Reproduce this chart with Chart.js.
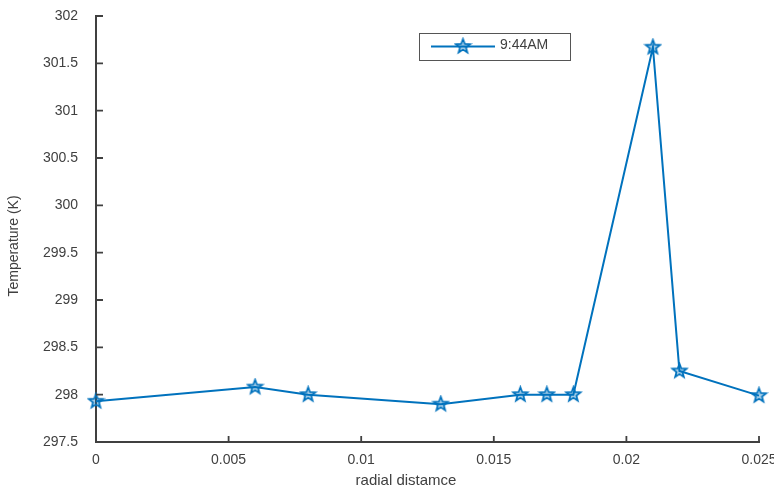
<!DOCTYPE html>
<html>
<head>
<meta charset="utf-8">
<script src="https://cdn.jsdelivr.net/npm/chart.js@4.4.1/dist/chart.umd.min.js"></script>
<style>
  html, body { margin: 0; padding: 0; background: #fff; }
  #wrap { width: 774px; height: 492px; position: relative; }
</style>
</head>
<body>
<div id="wrap"><canvas id="tempChart"></canvas></div>
<script>
// Data
const radius = [0, 0.006, 0.008, 0.013, 0.016, 0.017, 0.018, 0.021, 0.022, 0.025];
const temperature = [297.93, 298.08, 298.0, 297.90, 298.0, 298.0, 298.0, 301.67, 298.25, 297.99];
const seriesLabel = '9:44AM';
const xTicks = [0, 0.005, 0.01, 0.015, 0.02, 0.025];
const yTicks = [297.5, 298, 298.5, 299, 299.5, 300, 300.5, 301, 301.5, 302];

const lineColor = '#0072BD';
const axisColor = '#404040';
const textColor = '#404040';
const fontFamily = 'Arial, "Liberation Sans", Helvetica, sans-serif';

// 5-point star marker drawn on an offscreen canvas
function makeStar(r) {
    const size = Math.ceil(r * 2 + 4);
    const c = document.createElement('canvas');
    c.width = size;
    c.height = size;
    const g = c.getContext('2d');
    const cx = size / 2, cy = size / 2;
    g.beginPath();
    for (let i = 0; i < 10; i++) {
        const rad = i % 2 === 0 ? r : r * 0.42;
        const a = -Math.PI / 2 + i * Math.PI / 5;
        const px = cx + rad * Math.cos(a);
        const py = cy + rad * Math.sin(a);
        if (i === 0) g.moveTo(px, py); else g.lineTo(px, py);
    }
    g.closePath();
    g.fillStyle = 'rgba(0,114,189,0.35)';
    g.fill();
    g.lineWidth = 1.7;
    g.strokeStyle = lineColor;
    g.stroke();
    return c;
}
const star = makeStar(7.5);

// inward ticks, axis titles and legend box
const decorations = {
    id: 'decorations',
    afterDraw(chart) {
        const ctx = chart.ctx;
        const { left, bottom } = chart.chartArea;
        const xs = chart.scales.x;
        const ys = chart.scales.y;
        ctx.save();
        ctx.strokeStyle = axisColor;
        ctx.lineWidth = 1.8;
        ctx.beginPath();
        xTicks.forEach(v => {
            const px = xs.getPixelForValue(v);
            ctx.moveTo(px, bottom);
            ctx.lineTo(px, bottom - 6);
        });
        yTicks.forEach(v => {
            const py = ys.getPixelForValue(v);
            ctx.moveTo(left, py);
            ctx.lineTo(left + 7, py);
        });
        ctx.stroke();

        // axis titles
        ctx.fillStyle = textColor;
        ctx.textAlign = 'center';
        ctx.textBaseline = 'middle';
        ctx.font = '15px ' + fontFamily;
        ctx.fillText('radial distamce', 406, 481);
        ctx.translate(14, 246);
        ctx.rotate(-Math.PI / 2);
        ctx.font = '14px ' + fontFamily;
        ctx.fillText('Temperature (K)', 0, 0);
        ctx.restore();

        // legend
        ctx.save();
        ctx.fillStyle = '#fff';
        ctx.fillRect(419.5, 33.5, 151, 27);
        ctx.strokeStyle = '#555';
        ctx.lineWidth = 1;
        ctx.strokeRect(419.5, 33.5, 151, 27);
        ctx.strokeStyle = lineColor;
        ctx.lineWidth = 2;
        ctx.beginPath();
        ctx.moveTo(431, 46.5);
        ctx.lineTo(495, 46.5);
        ctx.stroke();
        ctx.drawImage(star, 463 - star.width / 2, 46.5 - star.height / 2);
        ctx.fillStyle = textColor;
        ctx.font = '14px ' + fontFamily;
        ctx.textAlign = 'left';
        ctx.textBaseline = 'middle';
        ctx.fillText(chart.data.datasets[0].label, 500, 45);
        ctx.restore();
    }
};

new Chart(document.getElementById('tempChart').getContext('2d'), {
    type: 'line',
    data: {
        datasets: [{
            label: seriesLabel,
            data: radius.map((r, i) => ({ x: r, y: temperature[i] })),
            borderColor: lineColor,
            borderWidth: 2,
            pointStyle: star,
            pointRadius: 7,
            pointHoverRadius: 7,
            tension: 0,
            fill: false,
            clip: false,
        }],
    },
    options: {
        responsive: true,
        maintainAspectRatio: false,
        animation: false,
        layout: { padding: { left: 0, right: 15, top: 16, bottom: 0 } },
        plugins: {
            legend: { display: false },
            tooltip: { enabled: false },
        },
        scales: {
            x: {
                type: 'linear',
                min: 0,
                max: 0.025,
                afterFit(scale) {
                    scale.height = 50;
                    scale.paddingLeft = 0;
                    scale.paddingRight = 0;
                },
                afterBuildTicks(scale) {
                    scale.ticks = xTicks.map(v => ({ value: v }));
                },
                grid: { drawOnChartArea: false, drawTicks: false },
                border: { display: true, color: axisColor, width: 2 },
                ticks: {
                    padding: 10,
                    color: textColor,
                    font: { family: fontFamily, size: 14 },
                    maxRotation: 0,
                    autoSkip: false,
                    callback: v => String(+v.toFixed(4)),
                },
            },
            y: {
                type: 'linear',
                min: 297.5,
                max: 302,
                afterFit(scale) {
                    scale.width = 96;
                    scale.paddingTop = 0;
                    scale.paddingBottom = 0;
                },
                afterBuildTicks(scale) {
                    scale.ticks = yTicks.map(v => ({ value: v }));
                },
                grid: { drawOnChartArea: false, drawTicks: false },
                border: { display: true, color: axisColor, width: 2 },
                ticks: {
                    padding: 18,
                    color: textColor,
                    font: { family: fontFamily, size: 14 },
                    autoSkip: false,
                    callback: v => String(v),
                },
            },
        },
    },
    plugins: [decorations],
});
</script>
</body>
</html>
